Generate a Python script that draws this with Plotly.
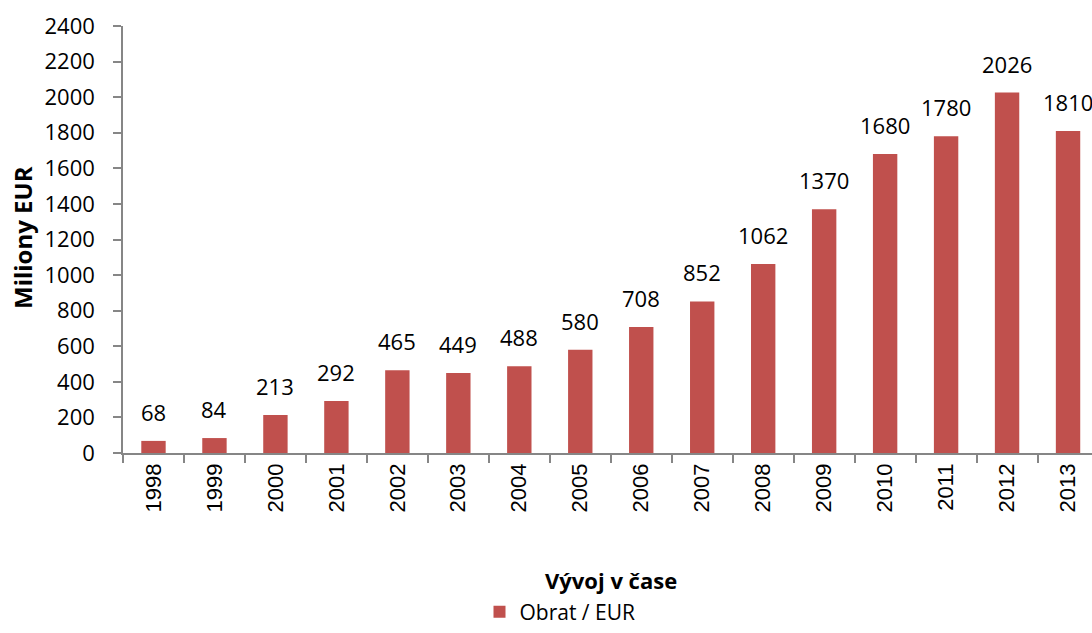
import plotly.graph_objects as go

years = ["1998", "1999", "2000", "2001", "2002", "2003", "2004", "2005",
         "2006", "2007", "2008", "2009", "2010", "2011", "2012", "2013"]
obrat = [68, 84, 213, 292, 465, 449, 488, 580,
         708, 852, 1062, 1370, 1680, 1780, 2026, 1810]
y_ticks = list(range(0, 2401, 200))

BAR = "#C0504D"
AXIS = "#868686"
TXT = "Open Sans"

fig = go.Figure()
fig.add_trace(go.Bar(
    x=years, y=obrat, name="Obrat / EUR",
    marker=dict(color=BAR, line=dict(width=0)),
))

# value labels above each bar (category index as x position)
for i, v in enumerate(obrat):
    fig.add_annotation(
        x=i, y=v, text=str(v), showarrow=False,
        yanchor="bottom", yshift=12,
        font=dict(family=TXT, size=22, color="#000000"),
    )

# axis titles
fig.add_annotation(
    xref="paper", yref="paper", x=(611 - 123) / 969, y=-(580 - 453) / 427,
    text="<b>Vývoj v čase</b>", showarrow=False,
    xanchor="center", yanchor="middle",
    font=dict(family=TXT, size=22, color="#000000"),
)
fig.add_annotation(
    xref="paper", yref="paper", x=-(123 - 22) / 969, y=(453 - 238) / 427,
    text="<b>Miliony EUR</b>", showarrow=False, textangle=-90,
    xanchor="center", yanchor="middle",
    font=dict(family=TXT, size=24, color="#000000"),
)

fig.update_layout(
    width=1092, height=633,
    margin=dict(l=123, r=0, t=26, b=180, autoexpand=False),
    paper_bgcolor="white", plot_bgcolor="white",
    bargap=0.6,
    showlegend=True,
    legend=dict(
        orientation="h", x=(560 - 123) / 969, xanchor="center",
        y=-(612 - 453) / 427, yanchor="middle",
        font=dict(family=TXT, size=21, color="#000000"),
        bgcolor="rgba(0,0,0,0)", borderwidth=0,
    ),
    xaxis=dict(
        type="category", range=[-0.5, 15.393], automargin=False,
        showline=True, linecolor=AXIS, linewidth=1.5,
        ticks="outside", tickson="boundaries", ticklen=8,
        tickcolor=AXIS, tickwidth=1.5,
        tickangle=-90, showgrid=False, zeroline=False,
        tickfont=dict(family="Liberation Sans", size=22, color="#000000"),
    ),
    yaxis=dict(
        range=[0, 2400], tickvals=y_ticks, automargin=False,
        showline=True, linecolor=AXIS, linewidth=1.5,
        ticks="outside", ticklen=8, tickcolor=AXIS, tickwidth=1.5,
        showgrid=False, zeroline=False, ticklabelstandoff=14,
        tickfont=dict(family=TXT, size=22, color="#000000"),
    ),
)

fig.write_html("out.html")
